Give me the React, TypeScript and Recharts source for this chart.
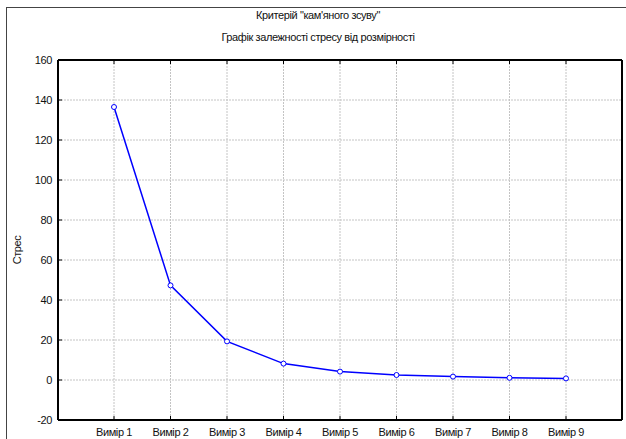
import React from 'react';
import { LineChart, Line, XAxis, YAxis, CartesianGrid } from 'recharts';

const categories = ['Вимір 1', 'Вимір 2', 'Вимір 3', 'Вимір 4', 'Вимір 5', 'Вимір 6', 'Вимір 7', 'Вимір 8', 'Вимір 9'];
const stress = [136.5, 47.3, 19.3, 8.2, 4.2, 2.5, 1.7, 1.1, 0.8];
const yTicks = [-20, 0, 20, 40, 60, 80, 100, 120, 140, 160];

const title = 'Критерій "кам\'яного зсуву"';
const subtitle = 'Графік залежності стресу від розмірності';
const yLabel = 'Стрес';

const data = categories.map((name, i) => ({ name, stress: stress[i] }));

const font = 'Arial, "Liberation Sans", sans-serif';
const tickStyle = { fontSize: 11, fill: '#111', fontFamily: font, letterSpacing: -0.4 };

const App: React.FC = () => {
  return (
    <div style={{ position: 'absolute', left: 0, top: 0, width: 626, height: 439, overflow: 'hidden', background: '#fff', fontFamily: font, color: '#111', letterSpacing: -0.4 }}>
      <div style={{ position: 'absolute', left: 6, top: 7, width: 700, height: 500, borderLeft: '1px solid #444', borderTop: '1px solid #444' }} />
      <div style={{ position: 'absolute', left: 0, width: 636, top: 9, textAlign: 'center', fontSize: 11 }}>{title}</div>
      <div style={{ position: 'absolute', left: 0, width: 636, top: 31, textAlign: 'center', fontSize: 11 }}>{subtitle}</div>
      <div style={{ position: 'absolute', left: 17, top: 250, fontSize: 11, transform: 'translate(-50%, -50%) rotate(-90deg)', whiteSpace: 'nowrap' }}>{yLabel}</div>
      <div style={{ position: 'absolute', left: 0, top: 0 }}>
        <LineChart width={626} height={439} data={data} margin={{ top: 56, right: 0, bottom: 0, left: 0 }}>
          <CartesianGrid xAxisId="bottom" yAxisId="left" stroke="#c4c4c4" strokeDasharray="2 1" />
          <XAxis
            dataKey="name"
            xAxisId="bottom"
            height={19}
            padding={{ left: 56, right: 56 }}
            interval={0}
            tickSize={-4}
            tickMargin={12}
            tick={tickStyle}
            tickLine={{ stroke: '#000' }}
            axisLine={{ stroke: '#000', strokeWidth: 2 }}
          />
          <XAxis
            dataKey="name"
            xAxisId="top"
            orientation="top"
            height={4}
            padding={{ left: 56, right: 56 }}
            interval={0}
            tickSize={-4}
            tickFormatter={() => ''}
            tickLine={{ stroke: '#000' }}
            axisLine={{ stroke: '#000', strokeWidth: 2 }}
          />
          <YAxis
            yAxisId="left"
            width={58}
            domain={[-20, 160]}
            ticks={yTicks}
            interval={0}
            tickSize={-4}
            tickMargin={10}
            tick={tickStyle}
            tickLine={{ stroke: '#000' }}
            axisLine={{ stroke: '#000', strokeWidth: 2 }}
          />
          <YAxis
            yAxisId="right"
            orientation="right"
            width={4}
            domain={[-20, 160]}
            ticks={yTicks}
            interval={0}
            tickSize={-4}
            tickFormatter={() => ''}
            tickLine={{ stroke: '#000' }}
            axisLine={{ stroke: '#000', strokeWidth: 2 }}
          />
          <Line
            xAxisId="bottom"
            yAxisId="left"
            type="linear"
            dataKey="stress"
            stroke="#0000ff"
            strokeWidth={1.5}
            dot={{ r: 2.5, fill: '#fff', stroke: '#0000ff', strokeWidth: 1 }}
            isAnimationActive={false}
          />
        </LineChart>
      </div>
    </div>
  );
};

export default App;
